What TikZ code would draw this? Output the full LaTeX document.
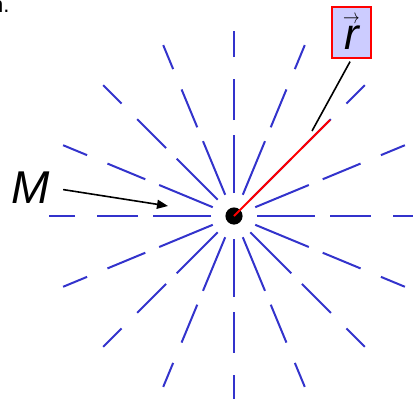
\documentclass[tikz,border=0pt]{standalone}
\usepackage{fontspec}
\usepackage{graphicx}
\setmainfont{Liberation Sans}
\usetikzlibrary{arrows.meta, calc}
\definecolor{rayblue}{RGB}{51,51,204}
\definecolor{boxfill}{RGB}{204,204,255}
\newcommand{\arrowover}[1]{\ensuremath{\mathop{\textit{#1}}\limits^{\scalebox{0.8}[1]{$\scriptscriptstyle\rightarrow$}}}}

\begin{document}
\begin{tikzpicture}[x=1pt, y=-1pt,
		ray/.style={rayblue, line width=2pt, dash pattern=on 58pt off 15pt on 41pt off 22pt on 26pt off 60pt},
		bigtext/.style={font=\fontsize{46}{50}\selectfont\itshape, inner sep=0pt},
		pointer/.style={black, line width=1.6pt}]
		\useasboundingbox (0,0) rectangle (413,399);
		
		\node[anchor=base east, font=\fontsize{22}{24}\selectfont] (note) at (13,12) {n.};
		
		\coordinate (O) at (234,216);
		\foreach \a in {0,22.5,...,337.5}
			\draw[ray] ($(O)+(\a:23)$) -- ($(O)+(\a:185)$);
		
		\fill (O) circle (8.6);
		\coordinate (rend) at (330,120);
		\draw[red, line width=2pt] (O) -- (rend);
		
		\node[draw=red, line width=2pt, fill=boxfill, minimum width=39pt, minimum height=51pt, inner sep=0pt, font=\fontsize{44}{48}\selectfont] (rvec) at (351.5,32.5) {\arrowover{r}};
		\coordinate (rpoint) at (312,131);
		\draw[pointer, shorten <=3pt] (rvec.south) -- (rpoint);
		
		\node[bigtext] (M) at (30.5,187.5) {M};
		\coordinate (Mtip) at (168,206);
		\draw[pointer, -{Triangle[length=11pt,width=9pt]}, shorten <=13.5pt] (M.east) -- (Mtip);
	\end{tikzpicture}
\end{document}
